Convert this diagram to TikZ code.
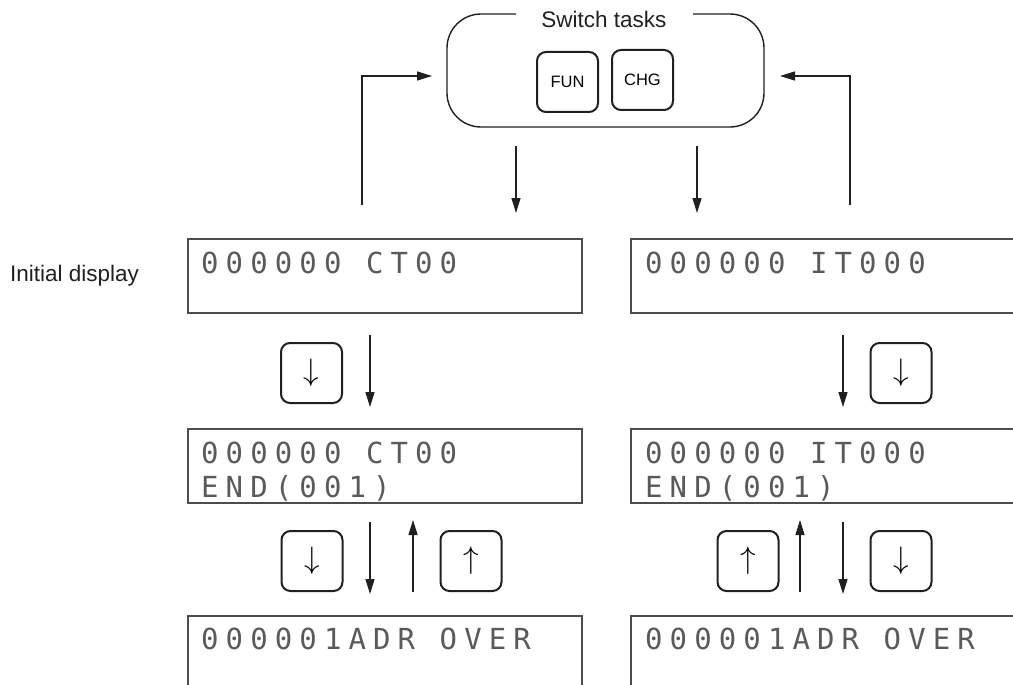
\documentclass[tikz,border=0pt]{standalone}
\usepackage{fontspec}
\setmainfont{Liberation Sans}
\newfontfamily\lcdfont[LetterSpace=24.5]{DejaVu Sans Mono}
\usetikzlibrary{arrows.meta}
\definecolor{ink}{HTML}{231F20}
\definecolor{lcdgray}{HTML}{5A5A5A}
\newcommand{\keydown}{\scalebox{1.25}{$\downarrow$}}
\newcommand{\keyup}{\scalebox{1.25}{$\uparrow$}}
\tikzset{
  conn/.style={draw=ink, line width=1.4pt, -{Triangle[length=15pt,width=9pt]}},
  line/.style={draw=ink, line width=1.4pt},
  display/.style={draw=black!70, line width=1.5pt, minimum height=74pt, inner sep=0pt},
  lcd/.style={anchor=base west, inner sep=0pt, text=lcdgray, font=\lcdfont\fontsize{29}{34}\selectfont},
  keybox/.style={draw=ink, line width=2pt, rounded corners=9pt, minimum width=61pt, minimum height=60pt, inner sep=0pt},
  arrowkey/.style={keybox, font=\fontsize{24}{28}\selectfont},
  label/.style={inner sep=0pt, text=ink, font=\fontsize{22.5}{26}\selectfont},
}
\begin{document}
\begin{tikzpicture}[x=1pt,y=-1pt]
\useasboundingbox (0,0) rectangle (1013,685);
% Switch tasks box
\node[minimum width=317pt, minimum height=113pt] (sw) at (605.5,70.5) {};
\draw[line, rounded corners=34pt] (516,14) -- (447,14) -- (447,127) -- (764,127) -- (764,14) -- (693,14);
\node[label, anchor=base] (title) at (604,28) {Switch tasks};
\node[keybox, font=\fontsize{16.5}{19}\selectfont] (fun) at (567.5,82) {FUN};
\node[keybox, font=\fontsize{16.5}{19}\selectfont] (chg) at (642.5,80) {CHG};
% label
\node[label, anchor=west] (init) at (10,276) {Initial display};
% displays
\node[display, minimum width=394pt] (d1L) at (385,276) {};
\node[display, minimum width=399pt] (d1R) at (830.5,276) {};
\node[display, minimum width=394pt] (d2L) at (385,466) {};
\node[display, minimum width=399pt] (d2R) at (830.5,466) {};
\node[display, minimum width=394pt] (d3L) at (385,653) {};
\node[display, minimum width=399pt] (d3R) at (830.5,653) {};
% display texts
\node[lcd] (t1L) at (201,273) {000000 CT00};
\node[lcd] (t1R) at (645,273) {000000 IT000};
\node[lcd] (t2La) at (201,463) {000000 CT00};
\node[lcd] (t2Lb) at (201,497) {END(001)};
\node[lcd] (t2Ra) at (645,463) {000000 IT000};
\node[lcd] (t2Rb) at (645,497) {END(001)};
\node[lcd] (t3L) at (201,649) {000001ADR OVER};
\node[lcd] (t3R) at (645,649) {000001ADR OVER};
% keys
\node[arrowkey] (k1L) at (311.5,373) {\keydown};
\node[arrowkey] (k1R) at (901,373) {\keydown};
\node[arrowkey] (k2La) at (312,561) {\keydown};
\node[arrowkey] (k2Lb) at (471,561) {\keyup};
\node[arrowkey] (k2Ra) at (748,561) {\keyup};
\node[arrowkey] (k2Rb) at (901,561) {\keydown};
% coordinates for connectors
\coordinate (a1s) at (516,146); \coordinate (a1e) at (516,213);
\coordinate (a2s) at (697,146); \coordinate (a2e) at (697,213);
\coordinate (rLs) at (362,205); \coordinate (rLc) at (362,76); \coordinate (rLe) at (432,76);
\coordinate (rRs) at (850,205); \coordinate (rRc) at (850,76); \coordinate (rRe) at (780,76);
\coordinate (v1Ls) at (370,335); \coordinate (v1Le) at (370,407);
\coordinate (v1Rs) at (843,335); \coordinate (v1Re) at (843,407);
\coordinate (v2Ds) at (370,522); \coordinate (v2De) at (370,594);
\coordinate (v2Us) at (413,592); \coordinate (v2Ue) at (413,520);
\coordinate (v2RUs) at (800,592); \coordinate (v2RUe) at (800,520);
\coordinate (v2RDs) at (843,522); \coordinate (v2RDe) at (843,594);
% connectors
\draw[conn] (a1s) -- (a1e);
\draw[conn] (a2s) -- (a2e);
\draw[conn] (rLs) -- (rLc) -- (rLe);
\draw[conn] (rRs) -- (rRc) -- (rRe);
\draw[conn] (v1Ls) -- (v1Le);
\draw[conn] (v1Rs) -- (v1Re);
\draw[conn] (v2Ds) -- (v2De);
\draw[conn] (v2Us) -- (v2Ue);
\draw[conn] (v2RUs) -- (v2RUe);
\draw[conn] (v2RDs) -- (v2RDe);
\end{tikzpicture}
\end{document}
